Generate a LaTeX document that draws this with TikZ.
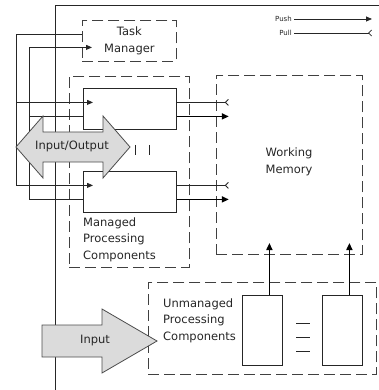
\documentclass[tikz,border=0pt]{standalone}
\usepackage{fontspec}
\setmainfont{DejaVu Sans}
\usetikzlibrary{arrows.meta}

\begin{document}
\begin{tikzpicture}[x=1pt,y=-1pt,
  wire/.style={line width=0.8pt,draw=black!85},
  dbox/.style={draw=black!75,line width=0.8pt,dash pattern=on 11pt off 5pt,
    rectangle,inner sep=0pt,anchor=north west},
  sbox/.style={draw=black!85,line width=0.8pt,rectangle,inner sep=0pt,
    anchor=north west,fill=white},
  lbl/.style={font=\fontsize{11.5}{16.5}\selectfont,inner sep=0pt,text=black!85},
  legend/.style={font=\fontsize{7}{8}\selectfont,inner sep=2pt,text=black!85},
  tipin/.style={-{Triangle[length=6pt,width=5pt]}},
  push/.style={line width=1.6pt,draw=black,-{Triangle[length=7pt,width=6pt]}},
  pull/.style={wire,-{Straight Barb[reversed,length=3pt,width=6pt]}},
  bigarrow/.style={draw=black!70,line width=0.8pt,fill=black!14,line join=miter}
]
\useasboundingbox (0,0) rectangle (379,390);

% system boundary
\coordinate (frameTR) at (379,5.5);
\coordinate (frameTL) at (55,5.5);
\coordinate (frameBL) at (55,390);
\draw[wire] (frameTR) -- (frameTL) -- (frameBL);

% legend
\node[legend,anchor=east] (lpush) at (294,19) {Push};
\node[legend,anchor=east] (lpull) at (294,33) {Pull};
\draw[wire,-{Triangle[length=6pt,width=5pt]}] (lpush.east) -- ++(78,0);
\draw[pull] (lpull.east) -- ++(78,0);

% containers
\node[dbox,minimum width=94pt,minimum height=41pt] (tm) at (82,20) {};
\node[lbl,align=center] (tmtext) at (tm.center) {Task\\Manager};
\node[dbox,minimum width=120pt,minimum height=191pt] (mpc) at (69,76) {};
\node[dbox,minimum width=146pt,minimum height=179pt] (wm) at (216,75) {};
\node[lbl,align=center] (wmtext) at (289,162) {Working\\Memory};
\node[dbox,minimum width=228pt,minimum height=92pt] (upc) at (148,282) {};

% managed components
\node[sbox,minimum width=93pt,minimum height=41pt] (cu) at (83,88) {};
\node[sbox,minimum width=93pt,minimum height=41pt] (cl) at (83,171) {};
\node[lbl,align=left,anchor=north west] (mpctext) at (83,217.5)
  {Managed\\Processing\\Components};

% unmanaged components
\node[sbox,minimum width=40pt,minimum height=70pt] (u1) at (242,295) {};
\node[sbox,minimum width=40pt,minimum height=70pt] (u2) at (322,295) {};
\node[lbl,align=left,anchor=north west] (upctext) at (163,298.5)
  {Unmanaged\\Processing\\Components};

% ellipsis between the unmanaged components
\foreach \yy/\nm in {323/ea,337/eb,351/ec}{
  \coordinate (\nm1) at (296,\yy);
  \coordinate (\nm2) at (310,\yy);
  \draw[wire] (\nm1) -- (\nm2);
}

% attachment points (upper port = 6.5 above centre, lower port = 7.5/6.5 below)
\coordinate (tmOut) at ([yshift=6.5pt]tm.west);
\coordinate (tmIn)  at ([yshift=-6.5pt]tm.west);
\coordinate (tmInTip) at ([xshift=10pt]tmIn);
\foreach \c in {cu,cl}{
  \coordinate (\c In)    at ([yshift=6.5pt]\c.west);
  \coordinate (\c InTip) at ([xshift=10pt]\c In);
  \coordinate (\c Fb)    at ([yshift=-7.5pt]\c.west);
  \coordinate (\c Pull)  at ([yshift=6.5pt]\c.east);
  \coordinate (\c Push)  at ([yshift=-7.5pt]\c.east);
}

% control buses
\coordinate (busA) at (16,0);
\coordinate (busB) at (29,0);
\draw[wire,tipin] (tmOut) -| (clIn -| busA) -- (clInTip);
\draw[wire,tipin] (cuIn -| busA) -- (cuInTip);
\draw[wire,tipin] (clFb) -| (tmIn -| busB) -- (tmInTip);
\draw[wire] (cuFb) -- (cuFb -| busB);

% data flows to working memory
\draw[pull] (cuPull) -- ++(52,0);
\draw[push] (cuPush) -- ++(52,0);
\draw[pull] (clPull) -- ++(52,0);
\draw[push] (clPush) -- ++(52,0);
\draw[push] ([xshift=7pt]u1.north) -- ++(0,-52);
\draw[push] ([xshift=7pt]u2.north) -- ++(0,-52);

% input/output arrow
\draw[bigarrow] (16,147) -- (43,116) -- (43,132) -- (103,132) -- (103,116)
  -- (130,147) -- (103,178) -- (103,162) -- (43,162) -- (43,178) -- cycle;
\node[lbl] (iotext) at (72,146) {Input/Output};
\coordinate (bar1a) at (135,145); \coordinate (bar1b) at (135,155);
\coordinate (bar2a) at (149,145); \coordinate (bar2b) at (149,155);
\draw[wire] (bar1a) -- (bar1b);
\draw[wire] (bar2a) -- (bar2b);

% input arrow
\draw[bigarrow] (42,325) -- (102,325) -- (102,309) -- (157,341)
  -- (102,373) -- (102,357) -- (42,357) -- cycle;
\node[lbl] (intext) at (95,341) {Input};
\end{tikzpicture}
\end{document}
